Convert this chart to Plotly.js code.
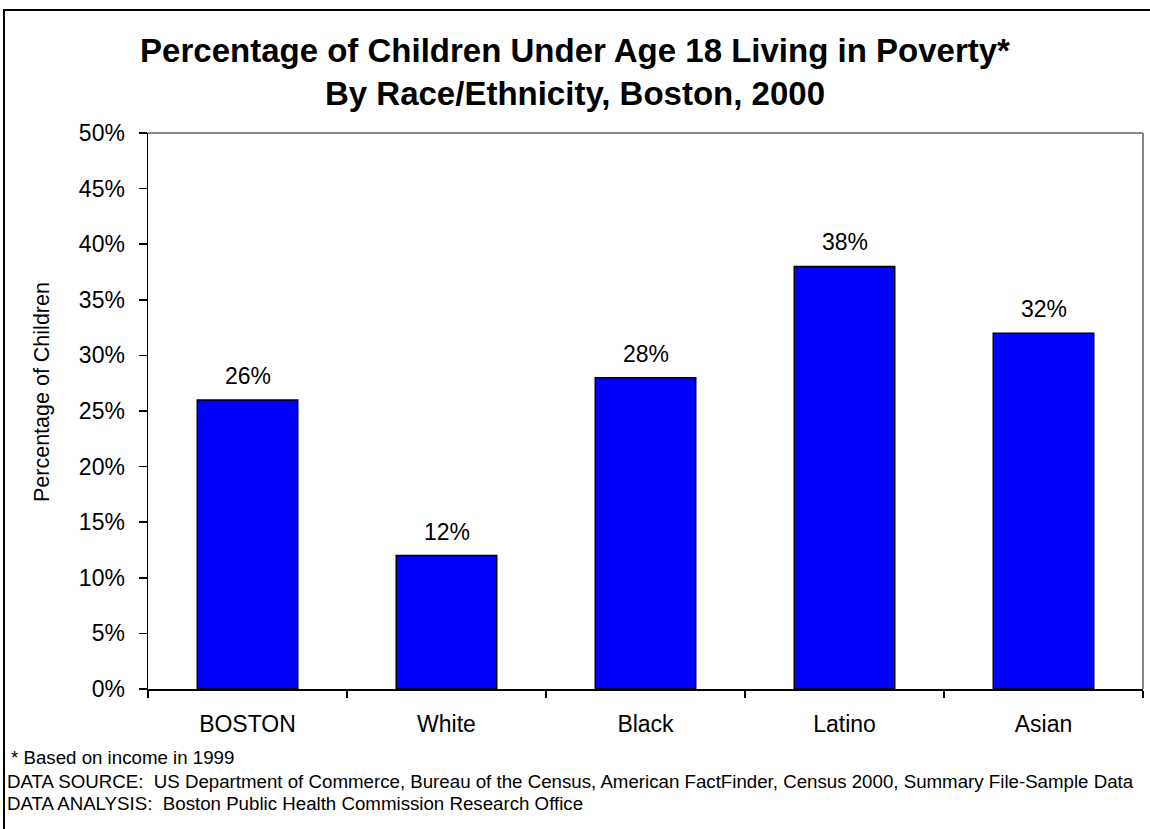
<!DOCTYPE html>
<html>
<head>
<meta charset="utf-8">
<script src="https://cdn.plot.ly/plotly-3.0.1.min.js"></script>
<style>html,body{margin:0;padding:0;background:#fff;}#chart{width:1150px;height:829px;}</style>
</head>
<body>
<div id="chart"></div>
<script>
const categories = ['BOSTON', 'White', 'Black', 'Latino', 'Asian'];
const povertyPct = [26, 12, 28, 38, 32];
const yTickVals = [0, 5, 10, 15, 20, 25, 30, 35, 40, 45, 50];
const yTickText = ['0%', '5%', '10%', '15%', '20%', '25%', '30%', '35%', '40%', '45%', '50%'];
const titleText = 'Percentage of Children Under Age 18 Living in Poverty*<br>By Race/Ethnicity, Boston, 2000';
const yAxisTitle = 'Percentage of Children';
const footnotes = [
  '* Based on income in 1999',
  'DATA SOURCE:\u00a0 US Department of Commerce, Bureau of the Census, American FactFinder, Census 2000, Summary File-Sample Data',
  'DATA ANALYSIS:\u00a0 Boston Public Health Commission Research Office'
];

const FONT = 'Arial, "Liberation Sans", sans-serif';
const W = 1150, H = 829;
const L = 148, R = 1143, T = 133, B = 689;
const px2x = p => (p - L) / (R - L);
const px2y = p => (B - p) / (B - T);

const trace = {
  type: 'bar',
  x: categories,
  y: povertyPct,
  marker: {color: '#0000FF', line: {color: '#000000', width: 1.5}},
  hoverinfo: 'x+y'
};

const annotations = categories.map((c, i) => ({
  x: c, y: povertyPct[i], xref: 'x', yref: 'y',
  text: povertyPct[i] + '%', showarrow: false,
  yanchor: 'middle', yshift: 24,
  font: {family: FONT, size: 23, color: '#000'}
}));

annotations.push({
  xref: 'paper', yref: 'paper', x: px2x(42), y: px2y(392),
  text: yAxisTitle, textangle: -90, showarrow: false,
  xanchor: 'center', yanchor: 'middle',
  font: {family: FONT, size: 21.5, color: '#000'}
});

const footX = [9, 5, 5];
const footY = [758, 781, 803];
footnotes.forEach((t, i) => annotations.push({
  xref: 'paper', yref: 'paper', x: px2x(footX[i]), y: px2y(footY[i]),
  text: t, showarrow: false, xanchor: 'left', yanchor: 'middle',
  font: {family: FONT, size: 18.7, color: '#000'}
}));

const layout = {
  width: W, height: H,
  margin: {l: L, r: W - R, t: T, b: H - B, pad: 0},
  paper_bgcolor: '#ffffff', plot_bgcolor: '#ffffff',
  font: {family: FONT, color: '#000'},
  showlegend: false,
  bargap: 0.495,
  title: {
    text: titleText, xref: 'container', yref: 'container',
    x: 0.5, xanchor: 'center', y: 1 - 62 / H, yanchor: 'middle',
    font: {family: FONT, size: 33, color: '#000', weight: 'bold'}
  },
  xaxis: {
    type: 'category', showgrid: false, zeroline: false,
    showline: true, linecolor: '#000', linewidth: 1.5,
    ticks: 'outside', tickson: 'boundaries', ticklen: 7, tickcolor: '#000', tickwidth: 1.5,
    ticklabelstandoff: 14,
    tickfont: {family: FONT, size: 23, color: '#000'}
  },
  yaxis: {
    range: [0, 50], showgrid: false, zeroline: false,
    showline: true, linecolor: '#000', linewidth: 1.5,
    tickmode: 'array', tickvals: yTickVals, ticktext: yTickText,
    ticks: 'outside', ticklen: 8, tickcolor: '#000', tickwidth: 1.5,
    ticklabelstandoff: 9,
    tickfont: {family: FONT, size: 23, color: '#000'}
  },
  shapes: [
    {type: 'line', xref: 'paper', yref: 'paper', x0: 0, x1: 1, y0: 1, y1: 1, line: {color: '#888888', width: 2}},
    {type: 'line', xref: 'paper', yref: 'paper', x0: 1, x1: 1, y0: 0, y1: 1, line: {color: '#888888', width: 2}},
    {type: 'rect', xref: 'paper', yref: 'paper', x0: px2x(4), x1: px2x(1165), y0: px2y(845), y1: px2y(10), line: {color: '#000000', width: 2}, fillcolor: 'rgba(0,0,0,0)'}
  ],
  annotations: annotations
};

Plotly.newPlot('chart', [trace], layout, {displayModeBar: false, staticPlot: true});
</script>
</body>
</html>
